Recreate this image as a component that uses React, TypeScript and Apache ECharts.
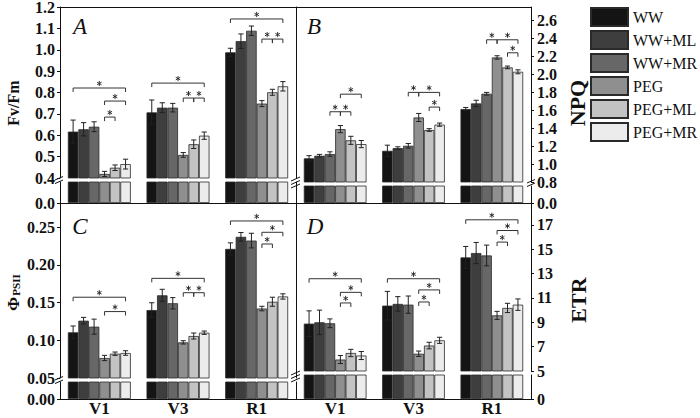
import React, { useEffect, useRef } from 'react';
import * as echarts from 'echarts';

const categories = ['V1', 'V3', 'R1'];
const treatments = ['WW', 'WW+ML', 'WW+MR', 'PEG', 'PEG+ML', 'PEG+MR'];
const colors = ['#141414', '#3e3e3e', '#676767', '#8f8f8f', '#c3c3c3', '#ececec'];

// values indexed [category][treatment]
const fvfmMean = [
  [0.617, 0.628, 0.64, 0.419, 0.448, 0.465],
  [0.707, 0.729, 0.729, 0.508, 0.558, 0.598],
  [0.988, 1.04, 1.089, 0.748, 0.801, 0.829],
];
const fvfmErr = [
  [0.054, 0.031, 0.023, 0.012, 0.013, 0.023],
  [0.058, 0.023, 0.02, 0.011, 0.02, 0.017],
  [0.019, 0.034, 0.022, 0.014, 0.014, 0.022],
];
const npqMean = [
  [1.064, 1.093, 1.112, 1.39, 1.265, 1.223],
  [1.148, 1.178, 1.204, 1.52, 1.38, 1.44],
  [1.614, 1.677, 1.785, 2.19, 2.079, 2.03],
];
const npqErr = [
  [0.03, 0.015, 0.025, 0.04, 0.045, 0.04],
  [0.063, 0.015, 0.026, 0.045, 0.015, 0.018],
  [0.018, 0.035, 0.015, 0.019, 0.015, 0.022],
];
const phiMean = [
  [0.1105, 0.1259, 0.118, 0.0765, 0.0822, 0.0831],
  [0.14, 0.1595, 0.149, 0.0972, 0.1056, 0.11],
  [0.221, 0.237, 0.232, 0.142, 0.151, 0.158],
];
const phiErr = [
  [0.0084, 0.0044, 0.01, 0.0035, 0.0022, 0.003],
  [0.0097, 0.008, 0.0075, 0.0022, 0.004, 0.0022],
  [0.008, 0.0057, 0.0097, 0.003, 0.006, 0.0035],
];
const etrMean = [
  [8.89, 9.0, 8.92, 5.94, 6.48, 6.27],
  [10.37, 10.51, 10.45, 6.42, 7.09, 7.52],
  [14.33, 14.69, 14.49, 9.57, 10.18, 10.45],
];
const etrErr = [
  [1.05, 1.0, 0.36, 0.33, 0.3, 0.33],
  [1.17, 0.6, 0.71, 0.22, 0.27, 0.25],
  [0.9, 0.87, 0.85, 0.33, 0.38, 0.47],
];

// significance brackets: [category, fromTreatment, toTreatment, height]
const fvfmSig = [
  [0, 0, 5, 0.821], [0, 3, 5, 0.76], [0, 3, 4, 0.685],
  [1, 0, 5, 0.844], [1, 3, 4, 0.774], [1, 4, 5, 0.774],
  [2, 0, 5, 1.144], [2, 3, 4, 1.05], [2, 4, 5, 1.05],
];
const npqSig = [
  [0, 2, 3, 1.584], [0, 3, 4, 1.584], [0, 3, 5, 1.78],
  [1, 2, 3, 1.8], [1, 3, 5, 1.8], [1, 4, 5, 1.636],
  [2, 2, 3, 2.387], [2, 3, 5, 2.387], [2, 4, 5, 2.242],
];
const phiSig = [
  [0, 0, 5, 0.157], [0, 3, 5, 0.138],
  [1, 0, 5, 0.182], [1, 3, 4, 0.163], [1, 4, 5, 0.163],
  [2, 0, 5, 0.258], [2, 3, 5, 0.243], [2, 3, 4, 0.2275],
];
const etrSig = [
  [0, 0, 5, 12.58], [0, 3, 5, 11.46], [0, 3, 4, 10.59],
  [1, 0, 5, 12.58], [1, 3, 5, 11.66], [1, 3, 4, 10.67],
  [2, 0, 5, 17.42], [2, 3, 5, 16.54], [2, 3, 4, 15.59],
];

const FONT = '"Liberation Serif", "Times New Roman", serif';

export default function App() {
  const ref = useRef<HTMLDivElement>(null);

  useEffect(() => {
    if (!ref.current) return;
    const chart = echarts.init(ref.current, null, { renderer: 'svg' });

    const panels = [
      { mean: fvfmMean, err: fvfmErr, sig: fvfmSig, up: 0, lo: 1, left: true, upMin: 0.4, upMax: 1.2, step: 0.1, loMax: 0.4, dig: 1 },
      { mean: npqMean, err: npqErr, sig: npqSig, up: 2, lo: 3, left: false, upMin: 0.8, upMax: 2.753, step: 0.2, loMax: 0.8, dig: 1 },
      { mean: phiMean, err: phiErr, sig: phiSig, up: 4, lo: 5, left: true, upMin: 0.05, upMax: 0.2818, step: 0.05, loMax: 0.05, dig: 2 },
      { mean: etrMean, err: etrErr, sig: etrSig, up: 6, lo: 7, left: false, upMin: 5, upMax: 18.8, step: 2, loMax: 5, dig: 0 },
    ];

    const grids = [
      { left: 60, width: 236, top: 7, height: 171 },
      { left: 60, width: 236, top: 182, height: 21 },
      { left: 296, width: 235, top: 7, height: 175 },
      { left: 296, width: 235, top: 186, height: 17 },
      { left: 60, width: 236, top: 203, height: 175 },
      { left: 60, width: 236, top: 382, height: 17 },
      { left: 296, width: 235, top: 203, height: 168 },
      { left: 296, width: 235, top: 375, height: 24 },
    ].map((g) => ({ ...g, outerBoundsMode: 'none', containLabel: false }));

    const axisLineStyle = { color: '#111', width: 1 };

    const xAxis = grids.map((_, i) => ({
      type: 'category',
      gridIndex: i,
      data: categories,
      position: i % 2 === 0 ? 'top' : 'bottom',
      axisLine: { show: true, onZero: false, lineStyle: axisLineStyle },
      axisTick: { show: false },
      axisLabel: {
        show: i === 5 || i === 7,
        margin: 1,
        fontFamily: FONT,
        fontWeight: 'bold',
        fontSize: 17,
        color: '#111',
      },
    }));

    const yAxis: any[] = [];
    panels.forEach((p) => {
      const labelBase = {
        fontFamily: FONT,
        fontWeight: 'bold',
        fontSize: 16,
        color: '#111',
        margin: p.left ? 5 : 6,
        showMaxLabel: false,
        formatter: (v: number) => v.toFixed(p.dig),
      };
      yAxis[p.up] = {
        type: 'value',
        gridIndex: p.up,
        position: p.left ? 'left' : 'right',
        min: p.upMin,
        max: p.upMax,
        interval: p.step,
        axisLine: { show: true, lineStyle: axisLineStyle },
        axisTick: { show: true, inside: false, length: 3, lineStyle: axisLineStyle },
        splitLine: { show: false },
        axisLabel: { ...labelBase, showMaxLabel: p.up === 0 ? true : false },
      };
      yAxis[p.lo] = {
        type: 'value',
        gridIndex: p.lo,
        position: p.left ? 'left' : 'right',
        min: 0,
        max: p.loMax,
        interval: p.loMax,
        axisLine: { show: true, lineStyle: axisLineStyle },
        axisTick: { show: true, inside: false, length: 3, lineStyle: axisLineStyle },
        splitLine: { show: false },
        axisLabel: { ...labelBase },
      };
    });
    // divider lines (right edge of left panels)
    [0, 1, 4, 5].forEach((g) => {
      yAxis.push({
        type: 'value',
        gridIndex: g,
        position: 'right',
        min: 0,
        max: 1,
        axisLine: { show: true, lineStyle: axisLineStyle },
        axisTick: { show: false },
        axisLabel: { show: false },
        splitLine: { show: false },
      });
    });

    const series: any[] = [];
    panels.forEach((p) => {
      [p.up, p.lo].forEach((gi) => {
        treatments.forEach((t, ti) => {
          series.push({
            type: 'bar',
            name: t,
            xAxisIndex: gi,
            yAxisIndex: gi,
            data: categories.map((_, c) => p.mean[c][ti]),
            barGap: '0%',
            barCategoryGap: '20%',
            clip: true,
            itemStyle: { color: colors[ti], borderColor: '#2a2a2a', borderWidth: 0.8 },
            emphasis: { disabled: true },
          });
        });
      });

      const errData: number[][] = [];
      categories.forEach((_, c) => {
        treatments.forEach((__, ti) => {
          errData.push([c, ti, p.mean[c][ti], p.err[c][ti]]);
        });
      });
      series.push({
        type: 'custom',
        name: 'err',
        xAxisIndex: p.up,
        yAxisIndex: p.up,
        z: 5,
        encode: { x: 0, y: 2 },
        data: errData,
        renderItem: (params: any, api: any) => {
          const c = api.value(0);
          const ti = api.value(1);
          const v = api.value(2);
          const e = api.value(3);
          const bw = api.size([1, 0])[0];
          const barW = (bw * 0.8) / 6;
          const base = api.coord([c, v]);
          const x = base[0] + (ti - 2.5) * barW;
          const yT = api.coord([c, v + e])[1];
          const yB = api.coord([c, v - e])[1];
          const hw = 2.6;
          const st = { stroke: '#222', lineWidth: 1 };
          return {
            type: 'group',
            children: [
              { type: 'line', shape: { x1: x, y1: yT, x2: x, y2: yB }, style: st },
              { type: 'line', shape: { x1: x - hw, y1: yT, x2: x + hw, y2: yT }, style: st },
              { type: 'line', shape: { x1: x - hw, y1: yB, x2: x + hw, y2: yB }, style: st },
            ],
          };
        },
      });

      series.push({
        type: 'custom',
        name: 'sig',
        xAxisIndex: p.up,
        yAxisIndex: p.up,
        z: 6,
        encode: { x: 0, y: 3 },
        data: p.sig,
        renderItem: (params: any, api: any) => {
          const c = api.value(0);
          const a = api.value(1);
          const b = api.value(2);
          const h = api.value(3);
          const bw = api.size([1, 0])[0];
          const barW = (bw * 0.8) / 6;
          const pt = api.coord([c, h]);
          const x1 = pt[0] + (a - 2.5) * barW;
          const x2 = pt[0] + (b - 2.5) * barW;
          const y = pt[1];
          const cx = (x1 + x2) / 2;
          const cy = y - 4.5;
          const r = 2.6;
          const sst = { stroke: '#222', lineWidth: 0.9 };
          const arm = (ang: number) => ({
            type: 'line',
            shape: {
              x1: cx - r * Math.sin(ang),
              y1: cy - r * Math.cos(ang),
              x2: cx + r * Math.sin(ang),
              y2: cy + r * Math.cos(ang),
            },
            style: sst,
          });
          return {
            type: 'group',
            children: [
              {
                type: 'polyline',
                shape: { points: [[x1, y + 4], [x1, y], [x2, y], [x2, y + 4]] },
                style: { stroke: '#333', lineWidth: 1, fill: 'none' },
              },
              arm(0),
              arm(Math.PI / 3),
              arm(-Math.PI / 3),
            ],
          };
        },
      });
    });

    const textEl = (text: string, x: number, y: number, font: string, rot = 0) => ({
      type: 'text',
      x,
      y,
      rotation: rot,
      style: {
        text,
        font,
        fill: '#111',
        align: 'center',
        verticalAlign: 'middle',
        textAlign: 'center',
        textVerticalAlign: 'middle',
      },
    });
    const ln = (x1: number, y1: number, x2: number, y2: number) => ({
      type: 'line',
      shape: { x1, y1, x2, y2 },
      style: { stroke: '#111', lineWidth: 1 },
    });

    const graphic: any[] = [
      textEl('Fv/Fm', 13, 103, 'bold 16px ' + FONT, Math.PI / 2),
      textEl('NPQ', 577, 103, 'bold 22px ' + FONT, Math.PI / 2),
      textEl('ETR', 578, 300, 'bold 22px ' + FONT, Math.PI / 2),
      textEl('Φ', 13.5, 304, 'bold 17px ' + FONT, Math.PI / 2),
      textEl('PSII', 16, 285, 'bold 11px ' + FONT, Math.PI / 2),
      textEl('A', 80, 26, 'italic 23px ' + FONT),
      textEl('B', 314, 26, 'italic 23px ' + FONT),
      textEl('C', 80, 226, 'italic 23px ' + FONT),
      textEl('D', 315, 226, 'italic 23px ' + FONT),
      // break marks
      ln(55, 180, 63, 176.5), ln(55, 183.5, 63, 180),
      ln(527, 183, 535, 179.5), ln(527, 186.5, 535, 183),
      ln(291, 181, 300, 177), ln(291, 184.5, 300, 180.5), ln(291, 188, 300, 184),
      ln(55, 380, 63, 376.5), ln(55, 383.5, 63, 380),
      ln(291, 375, 300, 371), ln(291, 378.5, 300, 374.5), ln(291, 382, 300, 378),
    ];

    chart.setOption({
      animation: false,
      backgroundColor: '#fff',
      textStyle: { fontFamily: FONT },
      grid: grids,
      xAxis,
      yAxis,
      series,
      legend: {
        orient: 'vertical',
        left: 590,
        top: 7,
        padding: 0,
        itemWidth: 37,
        itemHeight: 18,
        itemGap: 3,
        icon: 'rect',
        selectedMode: false,
        data: treatments,
        textStyle: { fontFamily: FONT, fontSize: 16, color: '#111' },
      },
      graphic,
    });

    return () => chart.dispose();
  }, []);

  return <div ref={ref} style={{ width: 700, height: 418, position: 'absolute', left: 0, top: 0 }} />;
}
